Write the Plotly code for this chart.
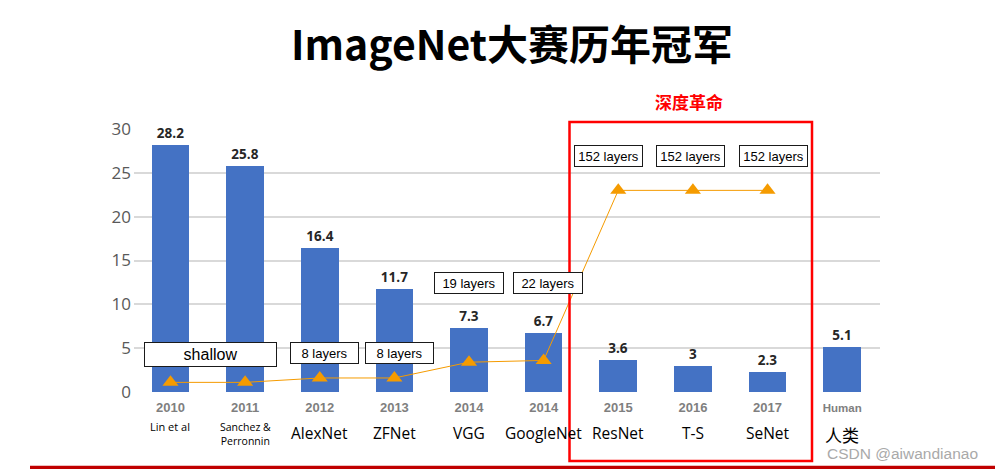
import plotly.graph_objects as go

# Error rates (%) of ImageNet winners, plus human level
years = ["2010", "2011", "2012", "2013", "2014", "2014", "2015", "2016", "2017", "Human"]
models = ["Lin et al", "Sanchez &<br>Perronnin", "AlexNet", "ZFNet", "VGG",
          "GoogleNet", "ResNet", "T-S", "SeNet", "人类"]
error_rate = [28.2, 25.8, 16.4, 11.7, 7.3, 6.7, 3.6, 3.0, 2.3, 5.1]

# Network depth indicator (drawn as the orange line with triangles)
depth_marker = [1.1, 1.1, 1.6, 1.6, 3.4, 3.6, 23.0, 23.0, 23.0]

# Depth annotations shown in boxes
depth_labels = ["shallow", "8 layers", "8 layers", "19 layers", "22 layers",
                "152 layers", "152 layers", "152 layers"]

W, H = 995, 469
L, R, T, B = 134, 880, 129, 392          # plot area in pixels
XMIN, XMAX = -0.489, 9.507
YMIN, YMAX = 0, 30


def px_to_x(px):
    return XMIN + (px - L) / (R - L) * (XMAX - XMIN)


def py_to_y(py):
    return YMIN + (B - py) / (B - T) * (YMAX - YMIN)


def px_to_paper(px):
    return (px - L) / (R - L)


def py_to_paper(py):
    return (B - py) / (B - T)


idx = list(range(len(years)))

fig = go.Figure()

fig.add_trace(go.Bar(
    x=idx, y=error_rate, width=0.504,
    marker=dict(color="#4472C4", line=dict(width=0)),
    text=[f"<b>{v:g}</b>" for v in error_rate],
    textposition="outside", cliponaxis=False,
    textfont=dict(family="Open Sans, Liberation Sans, sans-serif", size=13.5, color="#262626"),
    hoverinfo="skip", showlegend=False,
))

fig.add_trace(go.Scatter(
    x=idx[:len(depth_marker)], y=depth_marker, mode="lines+markers",
    line=dict(color="#F59B00", width=1),
    marker=dict(symbol="triangle-up", size=14, color="#F59B00"),
    cliponaxis=False, hoverinfo="skip", showlegend=False,
))

# Boxed depth labels (box centre in pixels, width, height, font size)
box_specs = [
    (210.0, 354.8, 131, 23, 16),
    (324.0, 353.0, 67, 20, 13),
    (399.2, 353.0, 67, 20, 13),
    (469.2, 283.2, 68, 20, 13),
    (548.3, 283.2, 68, 20, 13),
    (608.0, 155.8, 67, 20, 13),
    (690.5, 155.8, 67, 20, 13),
    (773.5, 155.8, 67, 20, 13),
]
annotations = []
for label, (cx, cy, bw, bh, fs) in zip(depth_labels, box_specs):
    annotations.append(dict(
        x=px_to_x(cx), y=py_to_y(cy), xref="x", yref="y",
        text=label, showarrow=False, width=bw, height=bh,
        bgcolor="white", bordercolor="#1a1a1a", borderwidth=1, borderpad=0,
        font=dict(family="Liberation Sans, Arial, sans-serif", size=fs, color="#000000"),
        xanchor="center", yanchor="middle", align="center", valign="middle",
    ))

# Model names under the year labels
name_font = {
    "Lin et al": (11, 426.0),
    "Sanchez &<br>Perronnin": (10.5, 433.7),
    "人类": (17, 434.3),
}
for i, name in enumerate(models):
    size, cy = name_font.get(name, (15.5, 433.0))
    family = ("Noto Sans CJK SC, sans-serif" if name == "人类"
              else "Open Sans, Liberation Sans, sans-serif")
    annotations.append(dict(
        x=i, y=py_to_paper(cy), xref="x", yref="paper",
        text=name, showarrow=False, xanchor="center", yanchor="middle",
        font=dict(family=family, size=size, color="#000000"),
    ))

# "Depth revolution" heading above the red frame
annotations.append(dict(
    x=px_to_paper(689), y=py_to_paper(102), xref="paper", yref="paper",
    text="<b>深度革命</b>", showarrow=False, xanchor="center", yanchor="middle",
    font=dict(family="Noto Sans CJK SC, sans-serif", size=17, color="#FF0000"),
))

# Watermark
annotations.append(dict(
    x=px_to_paper(903), y=py_to_paper(453), xref="paper", yref="paper",
    text="CSDN @aiwandianao", showarrow=False, xanchor="center", yanchor="middle",
    font=dict(family="Liberation Sans, Arial, sans-serif", size=15.5, color="#A9A9A9"),
))

shapes = [
    # red frame around the deep-network era
    dict(type="rect", xref="paper", yref="paper",
         x0=px_to_paper(569.5), x1=px_to_paper(812),
         y0=py_to_paper(461), y1=py_to_paper(122),
         line=dict(color="#FF0000", width=2.5), fillcolor="rgba(0,0,0,0)", layer="above"),
    # dark red rule at the bottom
    dict(type="line", xref="paper", yref="paper",
         x0=px_to_paper(30), x1=px_to_paper(1000),
         y0=py_to_paper(467.5), y1=py_to_paper(467.5),
         line=dict(color="#C00000", width=3.5)),
]

ticktext = [f"<b>{y}</b>" if y != "Human" else "<b><span style='font-size:11.5px'>Human</span></b>"
            for y in years]

fig.update_layout(
    width=W, height=H,
    margin=dict(l=L, r=W - R, t=T, b=H - B, pad=0),
    paper_bgcolor="white", plot_bgcolor="white",
    title=dict(
        text="<b>ImageNet大赛历年冠军</b>",
        x=512 / W, xref="container", xanchor="center",
        y=1 - 46 / H, yref="container", yanchor="middle",
        font=dict(family="Noto Sans CJK SC, sans-serif", size=41, color="#000000"),
    ),
    xaxis=dict(
        range=[XMIN, XMAX], tickmode="array", tickvals=idx, ticktext=ticktext,
        showgrid=False, zeroline=False, showline=False, ticks="",
        tickfont=dict(family="Liberation Sans, Arial, sans-serif", size=13, color="#7F7F7F"),
        ticklabelstandoff=6,
    ),
    yaxis=dict(
        range=[YMIN, YMAX], tickmode="array", tickvals=[0, 5, 10, 15, 20, 25, 30],
        showgrid=True, gridcolor="#D9D9D9", gridwidth=2,
        zeroline=False, showline=False, ticks="",
        tickfont=dict(family="Open Sans, Liberation Sans, sans-serif", size=17, color="#595959"),
        ticklabelstandoff=2,
    ),
    annotations=annotations,
    shapes=shapes,
    bargap=0,
)

fig.write_html("out.html")
